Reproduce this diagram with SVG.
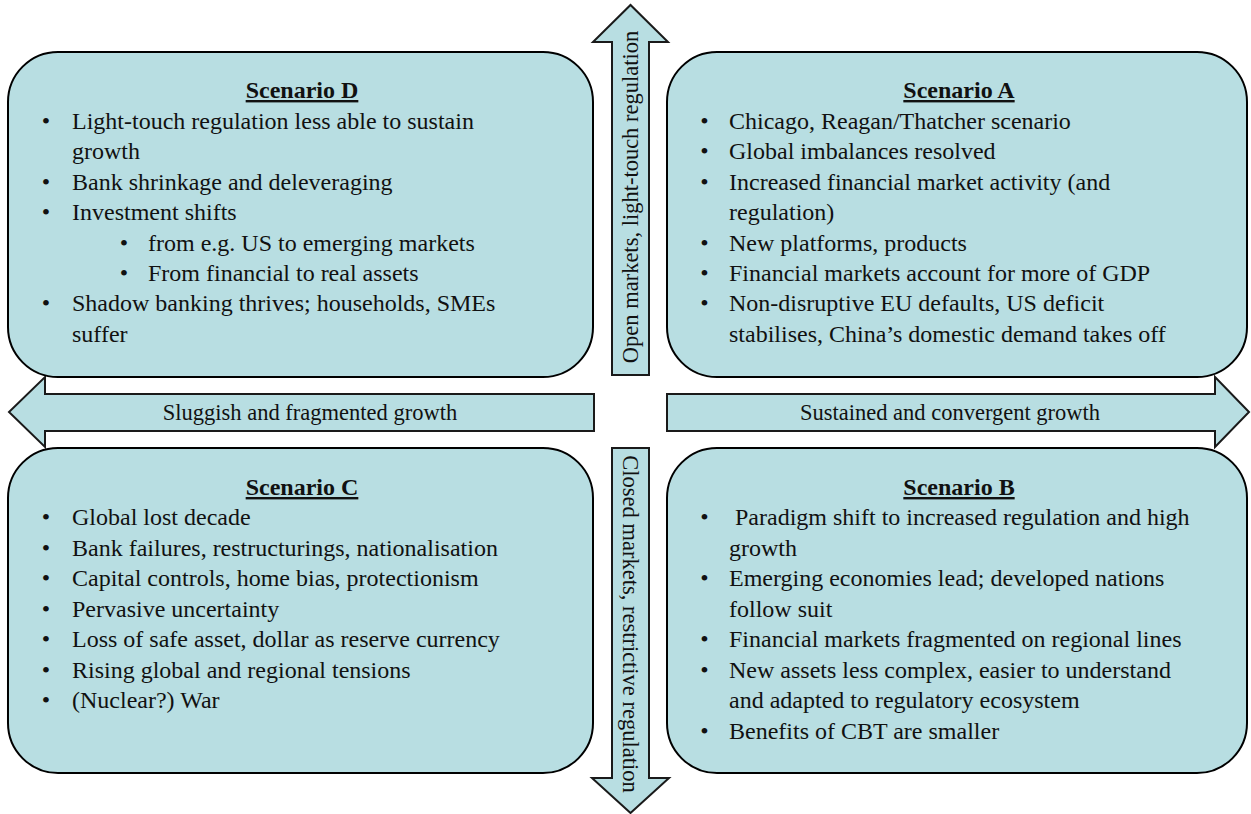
<svg xmlns="http://www.w3.org/2000/svg" width="1251" height="814" viewBox="0 0 1251 814">
<style>
.box{fill:#b8dee2;stroke:#000;stroke-width:2}
.arr{fill:#b8dee2;stroke:#1a1a1a;stroke-width:2}
text{font-family:"Liberation Serif","Times New Roman",serif;fill:#111}
.t{font-size:24px}
.h{font-size:24px;font-weight:bold;text-anchor:middle;text-decoration:underline}
.b{font-size:24px;text-anchor:middle}
.al{font-size:22.5px;text-anchor:middle}
</style>
<rect width="1251" height="814" fill="#fff"/>
<g id="connectors">
<g id="arrow-up">
<path class="arr" d="M612,375 L612,42 L593,42 L630.5,5 L668,42 L649,42 L649,375 Z"/>
<text class="al" transform="translate(638,197) rotate(-90)">Open markets, light-touch regulation</text>
</g>
<g id="arrow-down">
<path class="arr" d="M612,448 L649,448 L649,778 L669,778 L630.5,813 L592,778 L612,778 Z"/>
<text class="al" transform="translate(623,624) rotate(90)">Closed markets, restrictive regulation</text>
</g>
<g id="arrow-left">
<path class="arr" d="M594,394 L45,394 L45,377 L9,412 L45,447 L45,431 L594,431 Z"/>
<text class="al" x="310" y="420">Sluggish and fragmented growth</text>
</g>
<g id="arrow-right">
<path class="arr" d="M667,394 L1215,394 L1215,377 L1249,412 L1215,447 L1215,431 L667,431 Z"/>
<text class="al" x="950" y="420">Sustained and convergent growth</text>
</g>
</g>
<g id="scenario-d">
<rect class="box" x="8" y="52" width="585" height="325" rx="50" ry="50"/>
<text class="h" x="302" y="98">Scenario D</text>
<text class="b" x="46" y="129">•</text><text class="t" x="72" y="129">Light-touch regulation less able to sustain</text>
<text class="t" x="72" y="159.4">growth</text>
<text class="b" x="46" y="189.8">•</text><text class="t" x="72" y="189.8">Bank shrinkage and deleveraging</text>
<text class="b" x="46" y="220.2">•</text><text class="t" x="72" y="220.2">Investment shifts</text>
<text class="b" x="124" y="250.6">•</text><text class="t" x="148" y="250.6">from e.g. US to emerging markets</text>
<text class="b" x="124" y="281">•</text><text class="t" x="148" y="281">From financial to real assets</text>
<text class="b" x="46" y="311.4">•</text><text class="t" x="72" y="311.4">Shadow banking thrives; households, SMEs</text>
<text class="t" x="72" y="341.8">suffer</text>
</g>
<g id="scenario-a">
<rect class="box" x="667" y="52" width="580" height="325" rx="50" ry="50"/>
<text class="h" x="959" y="98">Scenario A</text>
<text class="b" x="704.5" y="129">•</text><text class="t" x="729" y="129">Chicago, Reagan/Thatcher scenario</text>
<text class="b" x="704.5" y="159.4">•</text><text class="t" x="729" y="159.4">Global imbalances resolved</text>
<text class="b" x="704.5" y="189.8">•</text><text class="t" x="729" y="189.8">Increased financial market activity (and</text>
<text class="t" x="729" y="220.2">regulation)</text>
<text class="b" x="704.5" y="250.6">•</text><text class="t" x="729" y="250.6">New platforms, products</text>
<text class="b" x="704.5" y="281">•</text><text class="t" x="729" y="281">Financial markets account for more of GDP</text>
<text class="b" x="704.5" y="311.4">•</text><text class="t" x="729" y="311.4">Non-disruptive EU defaults, US deficit</text>
<text class="t" x="729" y="341.8">stabilises, China’s domestic demand takes off</text>
</g>
<g id="scenario-c">
<rect class="box" x="8" y="448" width="585" height="325" rx="50" ry="50"/>
<text class="h" x="302" y="495">Scenario C</text>
<text class="b" x="46" y="525">•</text><text class="t" x="72" y="525">Global lost decade</text>
<text class="b" x="46" y="555.5">•</text><text class="t" x="72" y="555.5">Bank failures, restructurings, nationalisation</text>
<text class="b" x="46" y="586">•</text><text class="t" x="72" y="586">Capital controls, home bias, protectionism</text>
<text class="b" x="46" y="616.5">•</text><text class="t" x="72" y="616.5">Pervasive uncertainty</text>
<text class="b" x="46" y="647">•</text><text class="t" x="72" y="647">Loss of safe asset, dollar as reserve currency</text>
<text class="b" x="46" y="677.5">•</text><text class="t" x="72" y="677.5">Rising global and regional tensions</text>
<text class="b" x="46" y="708">•</text><text class="t" x="72" y="708">(Nuclear?) War</text>
</g>
<g id="scenario-b">
<rect class="box" x="667" y="448" width="580" height="325" rx="50" ry="50"/>
<text class="h" x="959" y="495">Scenario B</text>
<text class="b" x="704.5" y="525">•</text><text class="t" x="735" y="525">Paradigm shift to increased regulation and high</text>
<text class="t" x="729" y="555.5">growth</text>
<text class="b" x="704.5" y="586">•</text><text class="t" x="729" y="586">Emerging economies lead; developed nations</text>
<text class="t" x="729" y="616.5">follow suit</text>
<text class="b" x="704.5" y="647">•</text><text class="t" x="729" y="647">Financial markets fragmented on regional lines</text>
<text class="b" x="704.5" y="677.5">•</text><text class="t" x="729" y="677.5">New assets less complex, easier to understand</text>
<text class="t" x="729" y="708">and adapted to regulatory ecosystem</text>
<text class="b" x="704.5" y="738.5">•</text><text class="t" x="729" y="738.5">Benefits of CBT are smaller</text>
</g>
</svg>
